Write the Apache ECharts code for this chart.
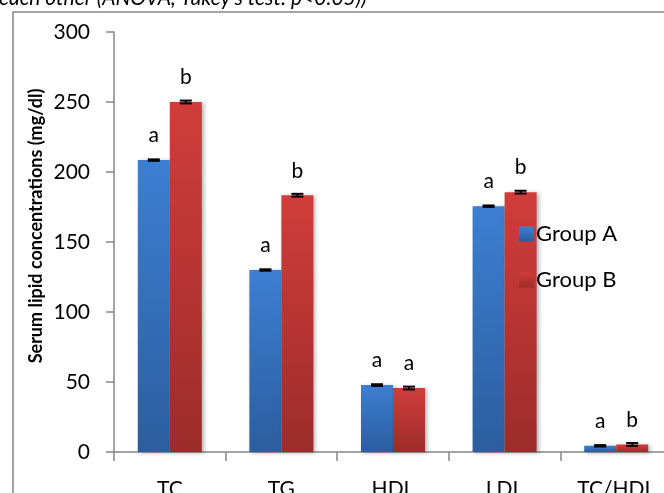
<!DOCTYPE html>
<html>
<head>
<meta charset="utf-8">
<script src="https://cdn.jsdelivr.net/npm/echarts@6/dist/echarts.min.js"></script>
<style>html,body{margin:0;padding:0;background:#fff}#c{width:664px;height:493px}</style>
</head>
<body>
<div id="c"></div>
<script>
const categories = ['TC', 'TG', 'HDL', 'LDL', 'TC/HDL'];
const groupA = [208.5, 130, 47.8, 175.6, 4.4];
const groupB = [250, 183.4, 45.7, 185.6, 5.4];
const errA = [0.5, 0.5, 0.6, 0.5, 0.5];
const errB = [1, 1, 1, 1, 1];
const lettersA = ['a', 'a', 'a', 'a', 'a'];
const lettersB = ['b', 'b', 'a', 'b', 'b'];
const yTicks = [0, 50, 100, 150, 200, 250, 300];
const seriesNames = ['Group A', 'Group B'];
const yTitle = 'Serum lipid concentrations (mg/dl)';
const topNote = "each other (ANOVA, Tukey's test: p<0.05))";

const FONT = 'Lato, Carlito, "Liberation Sans", sans-serif';
const BAR_W = 32;
const AXIS_COLOR = '#878787';

const blueGrad = new echarts.graphic.LinearGradient(0, 0, 0, 1, [
  {offset: 0, color: '#3c7fd2'}, {offset: 1, color: '#2c5d9f'}]);
const redGrad = new echarts.graphic.LinearGradient(0, 0, 0, 1, [
  {offset: 0, color: '#d03d3a'}, {offset: 1, color: '#9c2c2a'}]);

function barSeries(name, values, letters, grad) {
  return {
    name: name, type: 'bar', barWidth: BAR_W, barGap: '0%',
    data: values,
    itemStyle: {color: grad, shadowBlur: 4, shadowColor: 'rgba(0,0,0,0.3)', shadowOffsetX: 2, shadowOffsetY: 1},
    label: {show: true, position: 'top', distance: 14, color: '#000', fontFamily: FONT, fontSize: 21,
      formatter: p => letters[p.dataIndex]}
  };
}

function errSeries(values, errs, side) {
  return {
    type: 'custom', silent: true, z: 5,
    data: values.map((v, i) => [i, v, errs[i]]),
    renderItem: function (params, api) {
      const i = api.value(0), v = api.value(1), e = api.value(2);
      const hi = api.coord([i, v + e]);
      const lo = api.coord([i, v - e]);
      const x = hi[0] + side * BAR_W / 2;
      const cw = 6;
      const st = {stroke: '#000', lineWidth: 2};
      return {type: 'group', children: [
        {type: 'line', shape: {x1: x, y1: hi[1], x2: x, y2: lo[1]}, style: st},
        {type: 'line', shape: {x1: x - cw, y1: hi[1], x2: x + cw, y2: hi[1]}, style: st},
        {type: 'line', shape: {x1: x - cw, y1: lo[1], x2: x + cw, y2: lo[1]}, style: st}
      ]};
    }
  };
}

const chart = echarts.init(document.getElementById('c'), null, {renderer: 'canvas'});
chart.setOption({
  animation: false,
  backgroundColor: '#fff',
  textStyle: {fontFamily: FONT},
  grid: {left: 114, right: -8, top: 32, bottom: 41, containLabel: false, outerBoundsMode: 'none'},
  legend: {
    orient: 'vertical', left: 514, top: 218, itemWidth: 15, itemHeight: 15, itemGap: 24,
    icon: 'rect', data: seriesNames,
    textStyle: {fontFamily: FONT, fontSize: 22, color: '#000', padding: [0, 0, 0, -3]}
  },
  xAxis: {
    type: 'category', data: categories,
    axisLine: {lineStyle: {color: AXIS_COLOR, width: 1.5}},
    axisTick: {show: true, length: 9, lineStyle: {color: AXIS_COLOR, width: 1.5}},
    axisLabel: {color: '#000', fontFamily: FONT, fontSize: 21, margin: 27}
  },
  yAxis: {
    type: 'value', min: yTicks[0], max: yTicks[yTicks.length - 1], interval: yTicks[1] - yTicks[0],
    splitLine: {show: false},
    axisLine: {show: true, lineStyle: {color: AXIS_COLOR, width: 1.5}},
    axisTick: {show: true, length: 8, lineStyle: {color: AXIS_COLOR, width: 1.5}},
    axisLabel: {color: '#000', fontFamily: FONT, fontSize: 21, margin: 24}
  },
  graphic: [
    {type: 'rect', shape: {x: 13, y: 12, width: 720, height: 600}, style: {fill: 'none', stroke: AXIS_COLOR, lineWidth: 1.5}, z: -10, silent: true},
    {type: 'text', x: -1, y: 9, style: {text: topNote, font: 'italic 21px ' + FONT, fill: '#000', verticalAlign: 'bottom', align: 'left'}},
    {type: 'text', x: 36, y: 226, rotation: Math.PI / 2, style: {text: yTitle, font: 'bold 18px ' + FONT, fill: '#000', align: 'center', verticalAlign: 'middle'}}
  ],
  series: [
    barSeries(seriesNames[0], groupA, lettersA, blueGrad),
    barSeries(seriesNames[1], groupB, lettersB, redGrad),
    errSeries(groupA, errA, -1),
    errSeries(groupB, errB, 1)
  ]
});
</script>
</body>
</html>
